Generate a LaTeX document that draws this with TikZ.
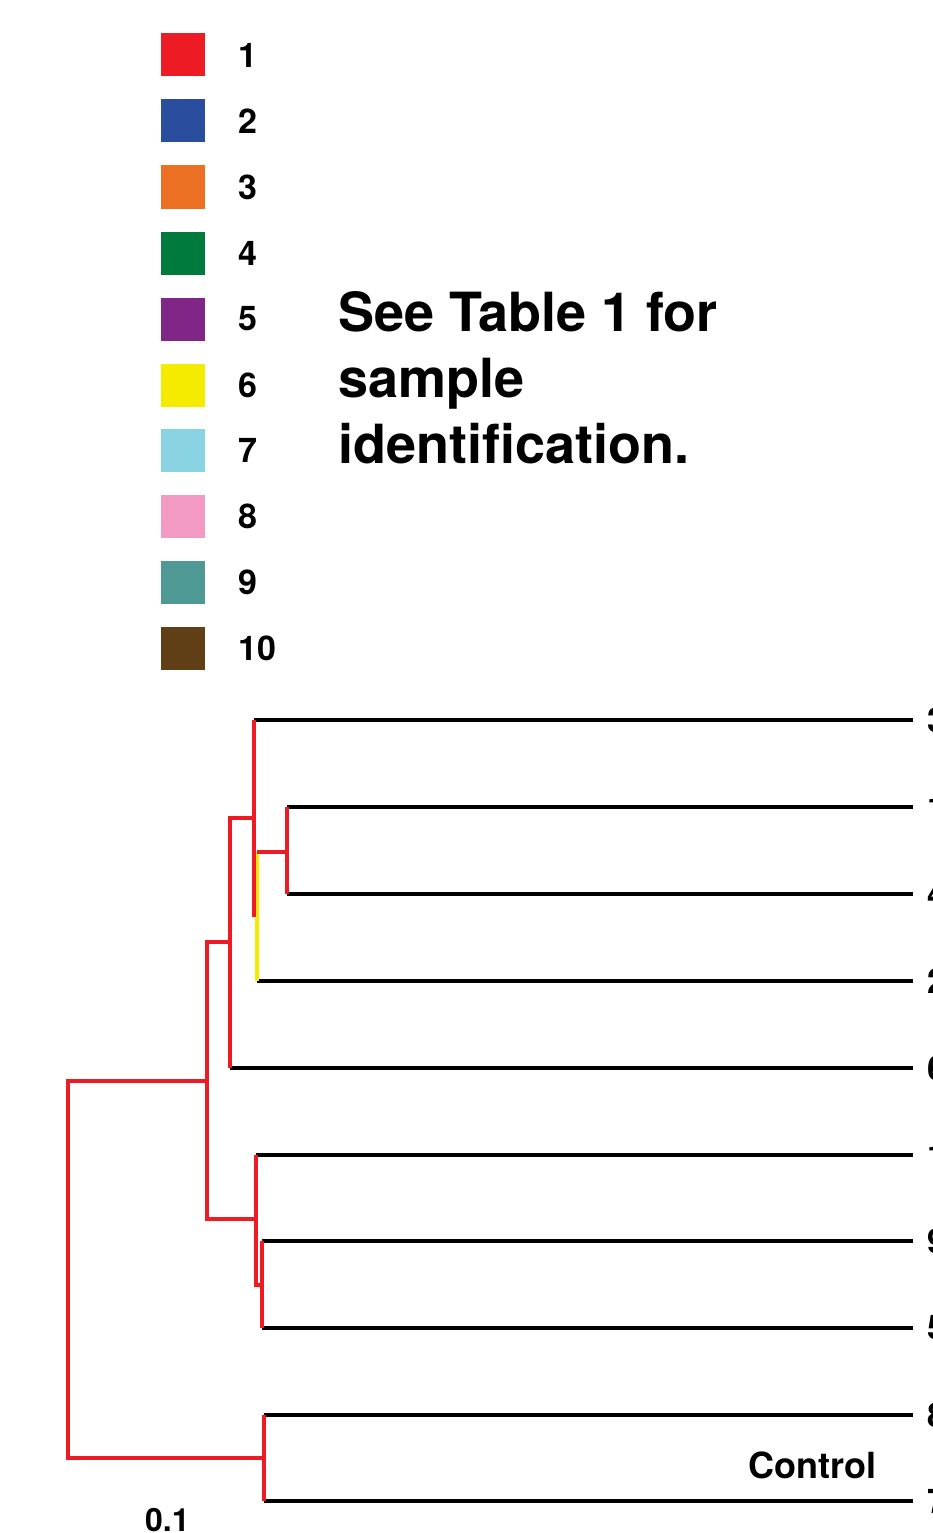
\documentclass[tikz,border=0pt]{standalone}
\usepackage{fontspec}
\setmainfont{TeX Gyre Heros}
\usetikzlibrary{positioning}

\definecolor{grp1}{RGB}{237,28,36}
\definecolor{grp2}{RGB}{43,77,158}
\definecolor{grp3}{RGB}{236,112,36}
\definecolor{grp4}{RGB}{0,122,61}
\definecolor{grp5}{RGB}{128,38,135}
\definecolor{grp6}{RGB}{245,235,0}
\definecolor{grp7}{RGB}{137,211,226}
\definecolor{grp8}{RGB}{242,154,196}
\definecolor{grp9}{RGB}{79,153,148}
\definecolor{grp10}{RGB}{96,62,22}

\begin{document}
\begin{tikzpicture}[
  x=1pt, y=-1pt,
  swatch/.style={rectangle, minimum width=44pt, minimum height=43pt, inner sep=0pt},
  key/.style={font=\fontsize{34}{34}\selectfont\bfseries, anchor=west, inner sep=0pt},
  note/.style={font=\fontsize{54}{66}\selectfont\bfseries, anchor=base west, inner sep=0pt},
  tip/.style={font=\fontsize{34}{34}\selectfont\bfseries, anchor=west, inner xsep=14pt, inner ysep=0pt},
  leaf/.style={line width=4pt, black},
  branch/.style={line width=3.5pt, grp1},
  yellowbranch/.style={line width=3.5pt, grp6},
]
  \useasboundingbox (0,0) rectangle (932,1533);

  % legend
  \node[swatch, fill=grp1] (sw1) at (183,55) {};
  \node[swatch, fill=grp2] (sw2) at (183,121) {};
  \node[swatch, fill=grp3] (sw3) at (183,187) {};
  \node[swatch, fill=grp4] (sw4) at (183,253) {};
  \node[swatch, fill=grp5] (sw5) at (183,319) {};
  \node[swatch, fill=grp6] (sw6) at (183,385) {};
  \node[swatch, fill=grp7] (sw7) at (183,450) {};
  \node[swatch, fill=grp8] (sw8) at (183,516) {};
  \node[swatch, fill=grp9] (sw9) at (183,582) {};
  \node[swatch, fill=grp10] (sw10) at (183,648) {};

  \node[key] (key1) at (238,55) {1};
  \node[key] (key2) at (238,121) {2};
  \node[key] (key3) at (238,187) {3};
  \node[key] (key4) at (238,253) {4};
  \node[key] (key5) at (238,319) {5};
  \node[key] (key6) at (238,385) {6};
  \node[key] (key7) at (238,450) {7};
  \node[key] (key8) at (238,516) {8};
  \node[key] (key9) at (238,582) {9};
  \node[key] (key10) at (238,648) {10};

  \node[note] (note1) at (338,331) {See Table 1 for};
  \node[note] (note2) at (338,397) {sample};
  \node[note] (note3) at (338,463) {identification.};

  % leaves
  \coordinate (a3) at (254,720);
  \coordinate (a1) at (287,807);
  \coordinate (a4) at (287,894);
  \coordinate (a2) at (257,981);
  \coordinate (a6) at (230,1068);
  \coordinate (a10) at (256,1155);
  \coordinate (a9) at (262,1241);
  \coordinate (a5) at (262,1328);
  \coordinate (a8) at (264,1415);
  \coordinate (a7) at (264,1501);

  \node[tip] (t3) at (913,720) {3};
  \node[tip] (t1) at (913,807) {1};
  \node[tip] (t4) at (913,894) {4};
  \node[tip] (t2) at (913,981) {2};
  \node[tip] (t6) at (913,1068) {6};
  \node[tip] (t10) at (913,1155) {10};
  \node[tip] (t9) at (913,1241) {9};
  \node[tip] (t5) at (913,1328) {5};
  \node[tip] (t8) at (913,1415) {8};
  \node[tip] (t7) at (913,1501) {7};

  \draw[leaf] (a3) -- (t3.west);
  \draw[leaf] (a1) -- (t1.west);
  \draw[leaf] (a4) -- (t4.west);
  \draw[leaf] (a2) -- (t2.west);
  \draw[leaf] (a6) -- (t6.west);
  \draw[leaf] (a10) -- (t10.west);
  \draw[leaf] (a9) -- (t9.west);
  \draw[leaf] (a5) -- (t5.west);
  \draw[leaf] (a8) -- (t8.west);
  \draw[leaf] (a7) -- (t7.west);

  % inner branches
  \coordinate (k3) at (254,917);
  \coordinate (k3m) at (254,818);
  \coordinate (k14) at (287,852);
  \coordinate (ky) at (257,852);
  \coordinate (c6) at (229,942);
  \coordinate (m) at (207,1081);
  \coordinate (c10) at (256,1219);
  \coordinate (k95) at (262,1285);
  \coordinate (r) at (68,1081);
  \coordinate (c8) at (264,1458);

  \draw[yellowbranch] (ky) -- (a2);
  \draw[branch] (a3) -- (k3);
  \draw[branch] (a1) -- (a4);
  \draw[branch] (ky) -- (k14);
  \draw[branch] (k3m) -| (a6);
  \draw[branch] (c6) -| (m) |- (c10);
  \draw[branch] (a10) |- (k95);
  \draw[branch] (a9) -- (a5);
  \draw[branch] (m) -- (r) |- (c8);
  \draw[branch] (a8) -- (a7);

  \node[font=\fontsize{36}{36}\selectfont\bfseries, anchor=base east, inner sep=0pt] (ctrl) at (877,1478) {Control};
  \node[font=\fontsize{32}{32}\selectfont\bfseries, anchor=base west, inner sep=0pt] (scale) at (145,1531) {0.1};
\end{tikzpicture}
\end{document}
